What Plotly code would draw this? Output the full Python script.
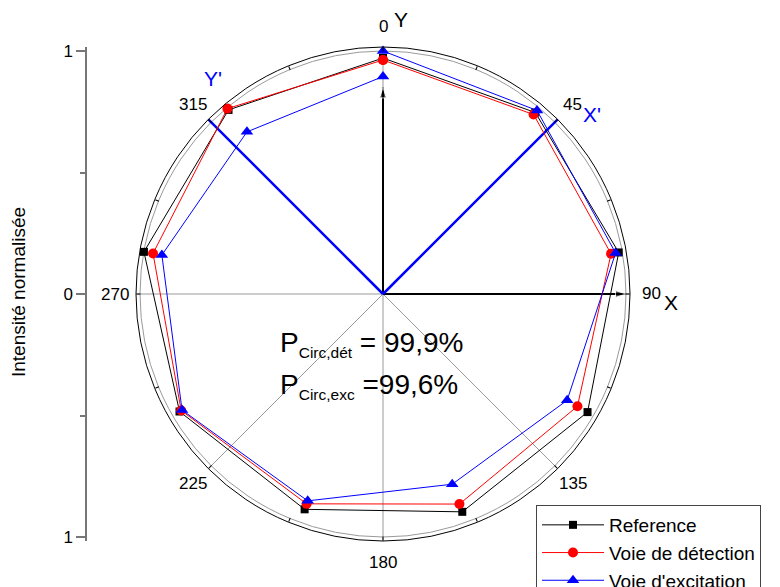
import math
import plotly.graph_objects as go

# ---------------- data ----------------
angles = [0, 40, 80, 120, 160, 200, 240, 280, 320, 360]
reference = [0.971, 0.975, 0.985, 0.972, 0.954, 0.943, 0.967, 0.999, 0.989, 0.971]
detection = [0.963, 0.964, 0.953, 0.924, 0.920, 0.919, 0.959, 0.961, 0.996, 0.963]
excitation = [1.000, 0.986, 0.972, 0.875, 0.833, 0.906, 0.955, 0.924, 0.871, 0.895]

angular_tick_angles = [i * 22.5 for i in range(16)]
angular_label_angles = [0, 45, 90, 135, 180, 225, 270, 315]
angular_label_texts = ["0", "45", "90", "135", "180", "225", "270", "315"]
spoke_angles = [0, 45, 90, 135, 180, 225, 270, 315]

# arrows: (angle, length, colour)
arrow_angles = [0, 90, 45, 315]
arrow_lengths = [0.85, 1.0, 1.03, 1.03]
arrow_colors = ["black", "black", "#0000ff", "#0000ff"]

radial_major = [-1, 0, 1]
radial_major_text = ["1", "0", "1"]
radial_minor = [-0.5, 0.5]

RMAX = 1.0165
FONT = "Arial, 'Liberation Sans', sans-serif"
W, H = 780, 587

fig = go.Figure()

# grid spokes
for a in spoke_angles:
    fig.add_trace(go.Scatterpolar(r=[0, RMAX], theta=[a, a], mode="lines",
                                  line=dict(color="#9a9a9a", width=1),
                                  showlegend=False, hoverinfo="skip"))

# arrows
for a, L, c in zip(arrow_angles, arrow_lengths, arrow_colors):
    w = 2 if c == "black" else 2.5
    s = 11 if c == "black" else 14
    fig.add_trace(go.Scatterpolar(r=[0, L], theta=[a, a], mode="lines+markers",
                                  line=dict(color=c, width=w),
                                  marker=dict(symbol="arrow", size=[0, s], angle=[a, a], color=c),
                                  cliponaxis=False, showlegend=False, hoverinfo="skip"))

# data
fig.add_trace(go.Scatterpolar(r=reference, theta=angles, mode="lines+markers", name="Reference",
                              line=dict(color="black", width=1),
                              marker=dict(symbol="square", size=8, color="black"),
                              cliponaxis=False))
fig.add_trace(go.Scatterpolar(r=detection, theta=angles, mode="lines+markers", name="Voie de détection",
                              line=dict(color="#ff0000", width=1),
                              marker=dict(symbol="circle", size=10, color="#ff0000"),
                              cliponaxis=False))
fig.add_trace(go.Scatterpolar(r=excitation, theta=angles, mode="lines+markers", name="Voie d'excitation",
                              line=dict(color="#0000ff", width=1),
                              marker=dict(symbol="triangle-up", size=11, color="#0000ff"),
                              cliponaxis=False))

# dummy cartesian trace for the left intensity scale
fig.add_trace(go.Scatter(x=[None], y=[None], xaxis="x", yaxis="y", showlegend=False, hoverinfo="skip"))

cx, cy, R = 383, 294, 247
fig.update_layout(
    width=W, height=H,
    margin=dict(l=0, r=0, t=0, b=0, autoexpand=False),
    paper_bgcolor="white", plot_bgcolor="white",
    font=dict(family=FONT, color="black", size=16),
    polar=dict(
        domain=dict(x=[(cx - R) / W, (cx + R) / W], y=[(H - cy - R) / H, (H - cy + R) / H]),
        bgcolor="white",
        angularaxis=dict(direction="clockwise", rotation=90,
                         tickmode="array", tickvals=angular_tick_angles, showticklabels=False,
                         ticks="inside", ticklen=4, tickcolor="black", tickwidth=1,
                         showline=True, linecolor="black", linewidth=1,
                         showgrid=False),
        radialaxis=dict(range=[0, RMAX], tickmode="array", tickvals=[1], showticklabels=False,
                        ticks="", showline=False, showgrid=True, gridcolor="#9a9a9a", gridwidth=1),
    ),
    xaxis=dict(domain=[87 / W, 0.15], range=[0, 1], visible=False, fixedrange=True),
    yaxis=dict(domain=[(H - cy - R) / H, (H - cy + R) / H], range=[-RMAX, RMAX], anchor="x",
               showline=True, linecolor="#777777", linewidth=1.5,
               tickmode="array", tickvals=radial_major, ticktext=radial_major_text,
               ticks="outside", ticklen=9, tickcolor="#777777", tickwidth=1.5,
               minor=dict(tickmode="array", tickvals=radial_minor, ticks="outside", ticklen=5,
                          tickcolor="#777777", tickwidth=1.5, showgrid=False),
               showgrid=False, zeroline=False, tickfont=dict(size=17, color="black"), fixedrange=True),
    legend=dict(x=536 / W, y=1 - 505 / H, xanchor="left", yanchor="top",
                bgcolor="white", bordercolor="#444444", borderwidth=1,
                font=dict(size=19, family=FONT, color="black"), itemwidth=62,
                tracegroupgap=0),
    showlegend=True,
)

def px(x, y):
    return x / W, 1 - y / H

ann = []
def add(text, x, y, size, color="black", xanchor="center", yanchor="middle", angle=0):
    X, Y = px(x, y)
    ann.append(dict(text=text, x=X, y=Y, xref="paper", yref="paper", showarrow=False,
                    xanchor=xanchor, yanchor=yanchor, textangle=angle,
                    font=dict(size=size, color=color, family=FONT)))

# angular tick labels placed just outside the outer circle
LABEL_R = 268
for a, t in zip(angular_label_angles, angular_label_texts):
    rad = math.radians(a)
    add(t, cx + LABEL_R * math.sin(rad), cy - LABEL_R * math.cos(rad), 17)

add("Y", 401, 19, 21)
add("X", 671, 302, 21)
add("Y'", 213, 78, 21, "#0000ff")
add("X'", 592, 114, 21, "#0000ff")
add("Intensité normalisée", 19, 292, 19, angle=-90)
add("P<sub><span style='font-size:15.5px'>Circ,dét</span></sub> = 99,9%", 278, 344, 28, xanchor="left")
add("P<sub><span style='font-size:15.5px'>Circ,exc</span></sub> =99,6%", 278, 386, 28, xanchor="left")
fig.update_layout(annotations=ann)

fig.write_html("out.html", config={"displayModeBar": False},
               post_script="document.body.style.margin='0';document.body.style.overflow='hidden';")
